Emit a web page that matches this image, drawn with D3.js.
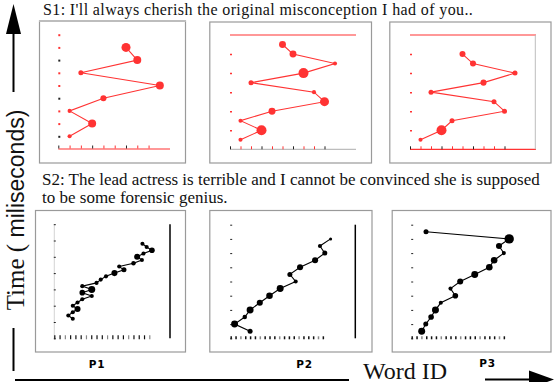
<!DOCTYPE html>
<html><head><meta charset="utf-8">
<script src="https://cdn.jsdelivr.net/npm/d3@7"></script>
<style>body{margin:0;background:#fff}svg{display:block}</style>
</head><body>
<svg id="c" width="554" height="382"></svg>
<script>
// ---------------- data ----------------
const sentence1 = "S1: I'll always cherish the original misconception I had of you..";
const sentence2a = "S2: The lead actress is terrible and I cannot be convinced she is supposed";
const sentence2b = "to be some forensic genius.";
const participants = ["P1", "P2", "P3"];
const xAxisTitle = "Word ID";
const yAxisTitleA = "Time (";
const yAxisTitleB = " miliseconds)";

// Sentence 1 scanpaths (fixation order -> word id, fixation duration)
const s1P1Times = [1, 2, 3, 4, 5, 6, 7, 8];
const s1P1Words = [1, 3, 1, 4, 9, 2, 7, 6];
const s1P1Dur   = [100, 380, 100, 220, 380, 150, 380, 490];

const s1P2Times = [1, 2, 3, 4, 5, 6, 7, 8, 9, 10, 11];
const s1P2Words = [1, 3, 1, 4, 9, 8, 2, 7, 10, 6, 5];
const s1P2Dur   = [100, 600, 100, 290, 490, 100, 150, 600, 100, 290, 290];

const s1P3Times = [1, 2, 3, 4, 5, 6, 7, 8, 9, 10];
const s1P3Words = [1, 3, 4, 9, 8, 2, 7, 10, 6, 5];
const s1P3Dur   = [100, 600, 150, 150, 150, 150, 220, 150, 220, 220];

// Sentence 2 scanpaths
const s2P1Times = [6, 7, 8, 9, 10, 11, 12, 13, 14, 15, 16, 17, 18, 19, 20, 21, 22, 23, 24, 25, 26, 27, 28, 29];
const s2P1Words = [3.5, 2.65, 3.5, 4.4, 3.5, 4.4, 5.3, 7.1, 5.3, 7.1, 5.3, 8.0, 8.8, 9.8, 11.4, 13.2, 12.3, 15.0, 16.6, 15.7, 16.9, 18.5, 17.5, 16.7];
const s2P1Dur   = [100, 100, 100, 220, 100, 100, 100, 100, 190, 290, 100, 100, 100, 100, 220, 150, 100, 120, 100, 220, 100, 190, 100, 100];

const s2P2Times = [1, 2, 3, 4, 5, 6, 7, 8, 9, 10, 11, 12, 13, 14];
const s2P2Words = [4, 0.8, 2.9, 4, 6, 8, 10.2, 13.4, 12.2, 14.3, 17.4, 19.4, 18.4, 20.6];
const s2P2Dur   = [150, 290, 120, 290, 220, 260, 290, 100, 150, 220, 220, 150, 100, 55];

const s2P3Times = [1, 2, 3, 4, 5, 6, 7, 8, 9, 10, 11, 12, 13, 14, 15];
const s2P3Words = [2.06, 2.9, 4, 4.9, 6, 9, 8, 10, 13, 16, 17, 19, 18, 20.1, 2.95];
const s2P3Dur   = [290, 150, 190, 290, 100, 190, 100, 220, 290, 260, 260, 100, 220, 530, 150];

// ---------------- drawing ----------------
const svg = d3.select("#c");
const RED = "#ff3333";
const rScale = d3.scaleSqrt().domain([0, 600]).range([0, 5]);

function zip(t, w, d) { return t.map((v, i) => ({ t: v, w: w[i], d: d[i] })); }

function drawPanel(o) {
  const g = svg.append("g");
  const [bx0, by0, bx1, by1] = o.box;
  g.append("rect").attr("x", bx0 + 0.5).attr("y", by0 + 0.5)
    .attr("width", bx1 - bx0).attr("height", by1 - by0)
    .attr("fill", "none").attr("stroke", "#9a9a9a").attr("stroke-width", 1.2);
  if (o.lightTop) {
    g.append("line").attr("x1", bx0).attr("x2", bx1 + 1).attr("y1", by0 + 0.5).attr("y2", by0 + 0.5)
      .attr("stroke", "#bdbdbd").attr("stroke-width", 2);
  }
  const x = d3.scaleLinear().domain(o.xDom).range(o.xRange);
  const y = d3.scaleLinear().domain(o.yDom).range(o.yRange);
  const col = o.color;

  if (o.yAxisLine) {
    g.append("line").attr("x1", x(0)).attr("x2", x(0)).attr("y1", y(o.yDom[1])).attr("y2", y(0))
      .attr("stroke", o.yAxisLine).attr("stroke-width", 0.8);
  }
  if (o.xAxisLine) {
    g.append("line").attr("x1", x.range()[0]).attr("x2", x.range()[1]).attr("y1", y(0)).attr("y2", y(0))
      .attr("stroke", o.xAxisLine).attr("stroke-width", 1.2);
  }
  if (o.topLine) {
    g.append("line").attr("x1", x.range()[0]).attr("x2", x.range()[1]).attr("y1", y(o.yDom[1])).attr("y2", y(o.yDom[1]))
      .attr("stroke", o.topLine).attr("stroke-width", 1.2);
  }
  if (o.rightLine) {
    g.append("line").attr("x1", o.rightLine.x).attr("x2", o.rightLine.x)
      .attr("y1", y(o.yDom[1])).attr("y2", y(0))
      .attr("stroke", o.rightLine.c).attr("stroke-width", o.rightLine.w);
  }

  const xa = g.append("g").attr("transform", `translate(0,${y(0)})`)
    .call(d3.axisBottom(x).tickValues(o.xTicks).tickSize(-o.xTickLen).tickFormat(""));
  xa.select(".domain").remove();
  xa.selectAll(".tick line").attr("stroke", (d, i) => o.xTickColor(i)).attr("stroke-width", o.xTickW)
    .attr("transform", `translate(0,${o.xTickShift})`);

  const ya = g.append("g").attr("transform", `translate(${x(0) + o.yTickShift},0)`)
    .call(d3.axisLeft(y).tickValues(o.yTicks).tickSize(-o.yTickLen).tickFormat(""));
  ya.select(".domain").remove();
  ya.selectAll(".tick line").attr("stroke", (d, i) => o.yTickColor(i)).attr("stroke-width", o.yTickW);

  const data = o.data;
  g.append("path").datum(data)
    .attr("fill", "none").attr("stroke", col).attr("stroke-width", 1.1)
    .attr("d", d3.line().x(d => x(d.w)).y(d => y(d.t)));
  g.selectAll("circle.f").data(data).join("circle")
    .attr("cx", d => x(d.w)).attr("cy", d => y(d.t)).attr("r", d => rScale(d.d))
    .attr("fill", col);
}

const redBlack = i => (i % 3 === 0 ? "#222" : RED);

// ---- Sentence 1 panels ----
drawPanel({
  box: [39, 20.5, 185, 162.5], color: RED, lightTop: true,
  xDom: [0, 9.9], xRange: [58.3, 170], yDom: [0, 9], yRange: [149, 34.7],
  xAxisLine: RED,
  xTicks: d3.range(0, 9), xTickLen: 3, xTickW: 1, xTickShift: -0.5, xTickColor: redBlack,
  yTicks: d3.range(1, 10), yTickLen: 2, yTickW: 2, yTickShift: 0, yTickColor: redBlack,
  data: zip(s1P1Times, s1P1Words, s1P1Dur)
});
drawPanel({
  box: [209.3, 21.5, 371, 162.5], color: RED,
  xDom: [0, 12], xRange: [230, 356], yDom: [0, 12], yRange: [149.3, 35],
  xAxisLine: "#bdbdbd", topLine: RED,
  xTicks: d3.range(0, 10), xTickLen: 3, xTickW: 1, xTickShift: 0, xTickColor: redBlack,
  yTicks: [2, 4, 6, 8, 10], yTickLen: 2, yTickW: 1.5, yTickShift: 0, yTickColor: () => RED,
  data: zip(s1P2Times, s1P2Words, s1P2Dur)
});
drawPanel({
  box: [389.3, 21.5, 550.5, 162.5], color: RED,
  xDom: [0, 12], xRange: [410, 536], yDom: [0, 12], yRange: [149.3, 35],
  xAxisLine: RED, topLine: RED, rightLine: { x: 535.3, c: "#bdbdbd", w: 1 },
  xTicks: d3.range(0, 10), xTickLen: 3, xTickW: 1, xTickShift: 0, xTickColor: redBlack,
  yTicks: [2, 4, 6, 8, 10], yTickLen: 2, yTickW: 1.5, yTickShift: 0, yTickColor: () => RED,
  data: zip(s1P3Times, s1P3Words, s1P3Dur)
});

// ---- Sentence 2 panels ----
const blackGray = i => (i % 4 === 2 ? "#888" : "#111");
drawPanel({
  box: [35, 210, 185, 351.5], color: "#000",
  xDom: [0, 18], xRange: [54.3, 149.3], yDom: [0, 35], yRange: [338.3, 224.2],
  yAxisLine: "#c8c8c8", rightLine: { x: 170, c: "#000", w: 1.5 },
  xTicks: d3.range(0, 19), xTickLen: 4, xTickW: 1.2, xTickShift: 1, xTickColor: blackGray,
  yTicks: d3.range(0, 36, 5), yTickLen: 2, yTickW: 1, yTickShift: -0.5, yTickColor: () => "#222",
  data: zip(s2P1Times, s2P1Words, s2P1Dur)
});
drawPanel({
  box: [209.3, 210, 371.5, 351.5], color: "#000",
  xDom: [0, 20], xRange: [230.7, 327.7], yDom: [0, 16], yRange: [338.3, 224.7],
  rightLine: { x: 355.3, c: "#000", w: 1.5 },
  xTicks: d3.range(0, 20), xTickLen: 3, xTickW: 1.5, xTickShift: 1, xTickColor: blackGray,
  yTicks: d3.range(0, 17, 2), yTickLen: 2, yTickW: 1, yTickShift: -0.5, yTickColor: () => "#222",
  data: zip(s2P2Times, s2P2Words, s2P2Dur)
});
drawPanel({
  box: [391.7, 210, 550.5, 351.5], color: "#000",
  xDom: [0, 20], xRange: [411.7, 508.7], yDom: [0, 16], yRange: [338.3, 224.7],
  xTicks: d3.range(0, 20), xTickLen: 3, xTickW: 1.5, xTickShift: 1, xTickColor: blackGray,
  yTicks: d3.range(0, 17, 2), yTickLen: 2, yTickW: 1, yTickShift: -0.5, yTickColor: () => "#222",
  data: zip(s2P3Times, s2P3Words, s2P3Dur)
});

// ---- texts ----
const serif = "'Liberation Serif', 'Times New Roman', serif";
svg.append("text").attr("x", 43).attr("y", 14.5).attr("font-family", serif).attr("font-size", 16)
  .attr("letter-spacing", 0.38).attr("fill", "#111").text(sentence1);
svg.append("text").attr("x", 42).attr("y", 185).attr("font-family", serif).attr("font-size", 17)
  .attr("fill", "#111").text(sentence2a);
svg.append("text").attr("x", 42).attr("y", 203).attr("font-family", serif).attr("font-size", 17)
  .attr("fill", "#111").text(sentence2b);

const pPos = [[97, 368], [304.5, 368], [487.5, 366.5]];
svg.selectAll("text.p").data(participants).join("text").attr("class", "p")
  .attr("x", (d, i) => pPos[i][0]).attr("y", (d, i) => pPos[i][1])
  .attr("text-anchor", "middle").attr("font-family", "'DejaVu Sans', sans-serif")
  .attr("font-weight", "bold").attr("font-size", 10.5).attr("letter-spacing", 0.8).text(d => d);

svg.append("text").attr("x", 363).attr("y", 378.5).attr("font-family", serif).attr("font-size", 24)
  .attr("fill", "#111").text(xAxisTitle);

const yt = svg.append("text").attr("transform", "translate(24,210) rotate(-90)")
  .attr("text-anchor", "middle").attr("fill", "#111");
yt.append("tspan").attr("font-family", serif).attr("font-size", 25).text(yAxisTitleA);
yt.append("tspan").attr("font-family", "'Liberation Sans', sans-serif").attr("font-size", 23).text(yAxisTitleB);

// ---- arrows ----
svg.append("line").attr("x1", 13.5).attr("x2", 13.5).attr("y1", 30).attr("y2", 92).attr("stroke", "#000").attr("stroke-width", 2);
svg.append("line").attr("x1", 13.5).attr("x2", 13.5).attr("y1", 328).attr("y2", 371).attr("stroke", "#000").attr("stroke-width", 2);
svg.append("path").attr("d", "M13.5,4 L6,34 L21,34 Z").attr("fill", "#000");

svg.append("line").attr("x1", 15).attr("x2", 349).attr("y1", 380).attr("y2", 380).attr("stroke", "#000").attr("stroke-width", 2);
svg.append("line").attr("x1", 485).attr("x2", 535).attr("y1", 379.5).attr("y2", 379.5).attr("stroke", "#000").attr("stroke-width", 2);
svg.append("path").attr("d", "M554,379.5 L529,370.5 L529,388.5 Z").attr("fill", "#000");
</script>
</body></html>
